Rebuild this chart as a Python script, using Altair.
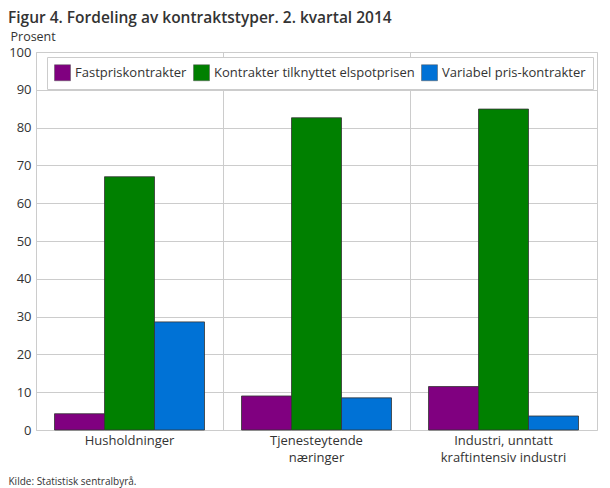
import altair as alt
import pandas as pd

categories = ["Husholdninger", "Tjenesteytende|næringer", "Industri, unntatt|kraftintensiv industri"]
series = ["Fastpriskontrakter", "Kontrakter tilknyttet elspotprisen", "Variabel pris-kontrakter"]
fastpris = [4.3, 9.0, 11.5]
elspot = [67.0, 82.6, 84.9]
variabel = [28.6, 8.5, 3.7]
colors = ["#800080", "#008000", "#0072d6"]

rows = []
for i, c in enumerate(categories):
    for s, vals in zip(series, [fastpris, elspot, variabel]):
        rows.append({"kategori": c, "serie": s, "verdi": vals[i]})
df = pd.DataFrame(rows)

FONT = "Open Sans"

chart = alt.Chart(df).mark_bar(stroke="#333333", strokeWidth=0.8).encode(
    x=alt.X("kategori:N", sort=categories,
            scale=alt.Scale(paddingInner=0, paddingOuter=0),
            axis=alt.Axis(title="Kilde: Statistisk sentralbyrå.", titleFontSize=10,
                          titleFont=FONT, titleFontWeight="normal", titleColor="#333333",
                          titleAnchor="start", titleAlign="left", titleBaseline="alphabetic",
                          titleX=-28, titleY=54,
                          labelAngle=0, labelExpr="split(datum.label, '|')",
                          labelFontSize=13, labelFont=FONT, labelColor="#333333",
                          labelPadding=4, labelLineHeight=17,
                          ticks=False, domain=False, grid=True, bandPosition=0,
                          gridColor="#cccccc")),
    xOffset=alt.XOffset("serie:N", sort=series,
                        scale=alt.Scale(paddingInner=0, paddingOuter=0.37)),
    y=alt.Y("verdi:Q", scale=alt.Scale(domain=[0, 100]),
            axis=alt.Axis(title="Prosent", titleAngle=0, titleAlign="left",
                          titleBaseline="alphabetic", titleX=-26, titleY=-12,
                          titleFont=FONT, titleFontSize=12.5, titleFontWeight="normal",
                          titleColor="#333333",
                          values=list(range(0, 101, 10)), labelFontSize=13,
                          labelFont=FONT, labelColor="#333333", labelPadding=5,
                          ticks=False, domain=False, gridColor="#cccccc")),
    color=alt.Color("serie:N", sort=series,
                    scale=alt.Scale(domain=series, range=colors),
                    legend=alt.Legend(title=None, orient="none", legendX=11, legendY=5,
                                      direction="horizontal", fillColor="white",
                                      strokeColor="#cccccc", padding=7,
                                      symbolType="square", symbolSize=256,
                                      symbolStrokeColor="#555555", symbolStrokeWidth=0.5,
                                      labelFont=FONT, labelFontSize=13,
                                      labelColor="#333333", columnPadding=5,
                                      labelOffset=4, labelLimit=400)),
).properties(
    width=561, height=378,
    title=alt.TitleParams("Figur 4. Fordeling av kontraktstyper. 2. kvartal 2014",
                          anchor="start", frame="group", dx=-28, offset=4,
                          font=FONT, fontSize=15.5, fontWeight=600, color="#333333"),
    autosize=alt.AutoSizeParams(type="none"),
    padding={"left": 28, "top": 44, "right": 5, "bottom": 58},
).configure_view(stroke="#cccccc")

chart.save("out.html", embed_options={"renderer": "svg", "actions": False})
